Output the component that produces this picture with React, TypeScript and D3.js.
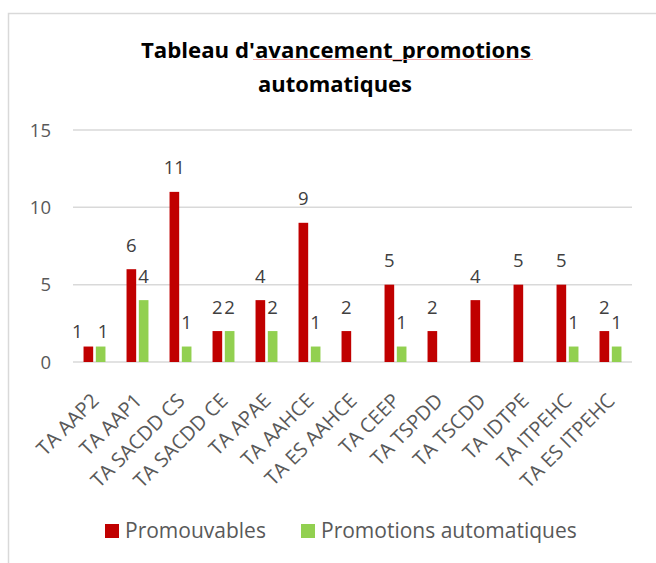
import { useEffect, useRef } from "react";
import * as d3 from "d3";

const categories = [
  "TA AAP2",
  "TA AAP1",
  "TA SACDD CS",
  "TA SACDD CE",
  "TA APAE",
  "TA AAHCE",
  "TA ES AAHCE",
  "TA CEEP",
  "TA TSPDD",
  "TA TSCDD",
  "TA IDTPE",
  "TA ITPEHC",
  "TA ES ITPEHC",
];
const promouvables = [1, 6, 11, 2, 4, 9, 2, 5, 2, 4, 5, 5, 2];
const promotionsAuto = [1, 4, 1, 2, 2, 1, null, 1, null, null, null, 1, 1];
const seriesNames = ["Promouvables", "Promotions automatiques"];
const seriesColors = ["#C00000", "#92D050"];
const yTicks = [0, 5, 10, 15];
const titleLines = ["Tableau d'avancement_promotions", "automatiques"];

const W = 656;
const H = 563;
const FONT = "'Open Sans', 'Noto Sans', sans-serif";

const App = () => {
  const ref = useRef<HTMLDivElement>(null);

  useEffect(() => {
    const svg = d3
      .select(ref.current)
      .append("svg")
      .attr("width", W)
      .attr("height", H)
      .style("position", "absolute")
      .style("left", "0px")
      .style("top", "0px")
      .style("background", "#fff");

    // chart frame (cut off on the right and bottom)
    svg.append("path")
      .attr("d", `M8.5,${H} V13.5 H${W}`)
      .attr("fill", "none")
      .attr("stroke", "#D9D9D9")
      .attr("stroke-width", 1.5);

    // title
    const title = svg.append("g").attr("font-family", FONT).attr("font-weight", "bold").attr("font-size", 21.5);
    title.append("text").attr("x", 336).attr("y", 57.5).attr("text-anchor", "middle")
      .attr("textLength", 390).attr("lengthAdjust", "spacingAndGlyphs").text(titleLines[0]);
    title.append("text").attr("x", 335).attr("y", 91.5).attr("text-anchor", "middle")
      .attr("textLength", 154).attr("lengthAdjust", "spacingAndGlyphs").text(titleLines[1]);
    // spell-check underline
    svg.append("line").attr("x1", 253).attr("x2", 533).attr("y1", 59.5).attr("y2", 59.5)
      .attr("stroke", "#F3A3A3").attr("stroke-width", 1);

    const x0 = d3.scaleBand().domain(categories).range([73, 632]);
    const x1 = d3.scaleBand().domain(seriesNames)
      .range([x0.bandwidth() * 0.245, x0.bandwidth() * 0.755]).paddingInner(0.215);
    const y = d3.scaleLinear().domain([0, 15]).range([362, 130]);

    // gridlines
    svg.append("g")
      .selectAll("line")
      .data(yTicks)
      .join("line")
      .attr("x1", 73)
      .attr("x2", 632)
      .attr("y1", (d) => y(d))
      .attr("y2", (d) => y(d))
      .attr("stroke", "#D9D9D9")
      .attr("stroke-width", 1.5);

    // y labels
    svg.append("g")
      .selectAll("text")
      .data(yTicks)
      .join("text")
      .attr("x", 51)
      .attr("y", (d) => y(d))
      .attr("dy", "0.36em")
      .attr("text-anchor", "end")
      .attr("font-family", FONT)
      .attr("font-size", 18.5)
      .attr("fill", "#595959")
      .text((d) => d);

    const rows = categories.flatMap((c, i) => [
      { cat: c, i, s: seriesNames[0], k: 0, v: promouvables[i] },
      { cat: c, i, s: seriesNames[1], k: 1, v: promotionsAuto[i] },
    ]).filter((d) => d.v != null) as { cat: string; i: number; s: string; k: number; v: number }[];

    svg.append("g")
      .selectAll("rect")
      .data(rows)
      .join("rect")
      .attr("x", (d) => x0(d.cat)! + x1(d.s)!)
      .attr("y", (d) => y(d.v))
      .attr("width", x1.bandwidth())
      .attr("height", (d) => y(0) - y(d.v))
      .attr("fill", (d) => seriesColors[d.k]);

    // data labels; the first group's labels were moved by hand in the original
    const nudge = (d: { i: number; k: number }) =>
      d.i === 0 ? (d.k === 0 ? [-11, 9] : [2.5, 9]) : [0, 0];

    svg.append("g")
      .selectAll("text")
      .data(rows)
      .join("text")
      .attr("x", (d) => x0(d.cat)! + x1(d.s)! + x1.bandwidth() / 2 + nudge(d)[0])
      .attr("y", (d) => y(d.v) - 17.5 + nudge(d)[1])
      .attr("text-anchor", "middle")
      .attr("font-family", FONT)
      .attr("font-size", 18.5)
      .attr("fill", "#404040")
      .text((d) => d.v);

    // x labels, rotated
    svg.append("g")
      .selectAll("text")
      .data(categories)
      .join("text")
      .attr("transform", (d) => `translate(${x0(d)! + x0.bandwidth() / 2 + 5.5},402) rotate(-45)`)
      .attr("text-anchor", "end")
      .attr("font-family", FONT)
      .attr("font-size", 20)
      .attr("fill", "#595959")
      .text((d) => d);

    // legend
    const legendX = [105, 301];
    const lg = svg.append("g");
    seriesNames.forEach((name, k) => {
      lg.append("rect").attr("x", legendX[k]).attr("y", 524).attr("width", 14).attr("height", 14)
        .attr("fill", seriesColors[k]);
      lg.append("text").attr("x", legendX[k] + 20).attr("y", 538)
        .attr("font-family", FONT).attr("font-size", 21).attr("fill", "#595959").text(name);
    });

    return () => {
      svg.remove();
    };
  }, []);

  return <div ref={ref}></div>;
};

export default App;
